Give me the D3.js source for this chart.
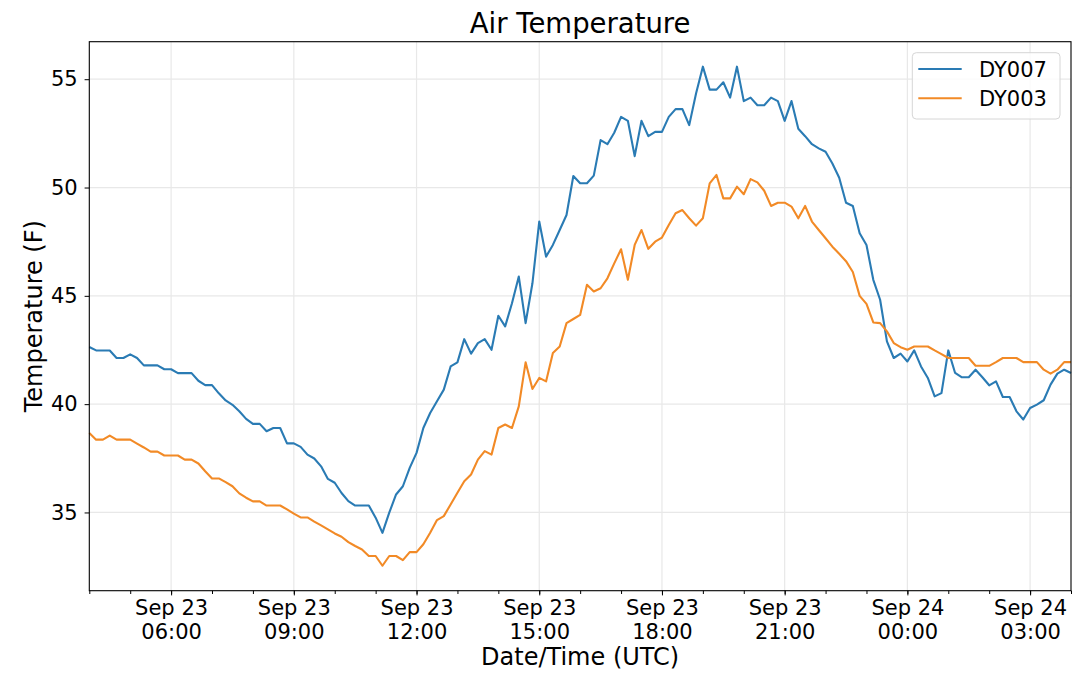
<!DOCTYPE html>
<html>
<head>
<meta charset="utf-8">
<script src="https://cdn.jsdelivr.net/npm/d3@7"></script>
<style>
body{margin:0;background:#fff}
text{font-family:"DejaVu Sans",sans-serif;fill:#000}
</style>
</head>
<body>
<div id="chart"></div>
<script>
// readings every 10 minutes, UTC
var startTime = "2019-09-23T04:00:00Z"
var endTime = "2019-09-24T04:00:00Z"
var stepMinutes = 10
var seriesNames = ["DY007","DY003"]
var seriesColors = ["#2a7bb4","#f28a26"]
var yTicks = [35,40,45,50,55]

var dy007 = [
  42.64,42.48,42.48,42.48,42.13,42.13,42.30,42.13,41.79,41.79,
  41.79,41.61,41.61,41.43,41.43,41.43,41.08,40.88,40.88,40.50,
  40.17,39.97,39.67,39.32,39.09,39.09,38.75,38.90,38.90,38.19,
  38.19,38.03,37.67,37.49,37.13,36.55,36.37,35.90,35.52,35.32,
  35.32,35.32,34.76,34.06,34.99,35.83,36.21,37.06,37.75,38.90,
  39.59,40.13,40.67,41.74,41.93,43.00,42.33,42.82,43.00,42.51,
  44.08,43.59,44.66,45.89,43.74,45.58,48.43,46.81,47.35,48.04,
  48.73,50.53,50.20,50.20,50.55,52.19,52.00,52.53,53.26,53.08,
  51.45,53.08,52.37,52.57,52.57,53.26,53.62,53.62,52.88,54.34,
  55.58,54.52,54.52,54.86,54.15,55.58,53.99,54.15,53.80,53.80,
  54.15,53.99,53.08,53.99,52.71,52.37,52.00,51.81,51.65,51.11,
  50.45,49.30,49.15,47.89,47.35,45.74,44.82,42.90,42.13,42.33,
  41.97,42.48,41.74,41.21,40.36,40.51,42.48,41.44,41.24,41.24,
  41.59,41.24,40.87,41.05,40.33,40.33,39.67,39.29,39.82,39.98,
  40.18,40.90,41.41,41.59,41.44
]
var dy003 = [
  38.67,38.36,38.36,38.55,38.36,38.36,38.36,38.18,38.00,37.81,
  37.81,37.63,37.63,37.63,37.44,37.44,37.26,36.90,36.57,36.57,
  36.40,36.21,35.88,35.68,35.51,35.51,35.32,35.32,35.32,35.14,
  34.95,34.77,34.77,34.58,34.40,34.22,34.03,33.88,33.63,33.45,
  33.29,32.99,32.99,32.54,32.99,32.99,32.80,33.17,33.17,33.53,
  34.06,34.65,34.83,35.37,35.91,36.44,36.75,37.44,37.83,37.67,
  38.90,39.06,38.90,39.90,41.93,40.70,41.21,41.05,42.36,42.66,
  43.74,43.93,44.12,45.51,45.20,45.35,45.81,46.50,47.15,45.74,
  47.35,48.04,47.17,47.50,47.69,48.27,48.81,48.96,48.58,48.24,
  48.58,50.19,50.58,49.50,49.50,50.04,49.69,50.39,50.24,49.85,
  49.15,49.30,49.30,49.12,48.58,49.15,48.43,48.04,47.66,47.27,
  46.94,46.60,46.10,45.00,44.63,43.77,43.74,43.36,42.82,42.63,
  42.51,42.66,42.66,42.66,42.48,42.31,42.13,42.13,42.13,42.13,
  41.77,41.77,41.77,41.94,42.13,42.13,42.13,41.94,41.94,41.94,
  41.59,41.41,41.59,41.94,41.94
]

var W = 1080, H = 677
var plotL = 89.3, plotR = 1071, plotT = 41.7, plotB = 590.7

var t0 = new Date(startTime), t1 = new Date(endTime)
var times = d3.utcMinute.every(stepMinutes).range(t0, d3.utcMinute.offset(t1, 1))

var series = [dy007, dy003].map((vals,k)=>({
    name: seriesNames[k],
    color: seriesColors[k],
    values: vals.map((v,i)=>({t: times[i], v: v}))
}))

var x = d3.scaleUtc().domain(d3.extent(times)).range([plotL, plotR])
var ext = d3.extent(dy007.concat(dy003))
var pad = (ext[1]-ext[0])*0.05
var y = d3.scaleLinear().domain([ext[0]-pad, ext[1]+pad]).range([plotB, plotT])

var svg = d3.select("#chart").append("svg")
    .attr("width", W)
    .attr("height", H)
    .style("background", "#fff")

var majorTimes = d3.utcHour.every(3).range(t0, t1)
var minorTimes = d3.utcHour.every(1).range(t0, d3.utcMinute.offset(t1, 1))

// grid
svg.append("g").selectAll("line")
    .data(majorTimes)
    .enter()
    .append("line")
    .attr("x1", d=>x(d)).attr("x2", d=>x(d))
    .attr("y1", plotT).attr("y2", plotB)
    .attr("stroke", "#e8e8e8")
    .attr("stroke-width", 1.2)

svg.append("g").selectAll("line")
    .data(yTicks)
    .enter()
    .append("line")
    .attr("x1", plotL).attr("x2", plotR)
    .attr("y1", d=>y(d)).attr("y2", d=>y(d))
    .attr("stroke", "#e8e8e8")
    .attr("stroke-width", 1.2)

// lines
var line = d3.line().x(d=>x(d.t)).y(d=>y(d.v))
svg.append("g").selectAll("path")
    .data(series)
    .enter()
    .append("path")
    .attr("d", d=>line(d.values))
    .attr("fill", "none")
    .attr("stroke", d=>d.color)
    .attr("stroke-width", 2.1)
    .attr("stroke-linejoin", "round")

// axes
var fmtDay = d3.utcFormat("%b %d"), fmtHour = d3.utcFormat("%H:%M")

var xMinor = svg.append("g")
    .attr("transform", "translate(0," + plotB + ")")
    .call(d3.axisBottom(x).tickValues(minorTimes).tickSize(3.3).tickSizeOuter(0).tickFormat(""))
xMinor.select(".domain").remove()
xMinor.selectAll("line").attr("stroke", "#000")

var xAxis = svg.append("g")
    .attr("transform", "translate(0," + plotB + ")")
    .call(d3.axisBottom(x).tickValues(majorTimes).tickSize(4.7).tickSizeOuter(0))
xAxis.select(".domain").remove()
xAxis.selectAll("line").attr("stroke", "#000")
xAxis.selectAll(".tick text").each(function(d){
    var t = d3.select(this).text(null).attr("y", 0).attr("dy", null)
        .attr("font-size", 21).attr("fill", "#000")
        .style("font-family", "DejaVu Sans")
    t.append("tspan").attr("x", 0).attr("y", 24.8).text(fmtDay(d))
    t.append("tspan").attr("x", 0).attr("y", 48.3).text(fmtHour(d))
})

var yAxis = svg.append("g")
    .attr("transform", "translate(" + plotL + ",0)")
    .call(d3.axisLeft(y).tickValues(yTicks).tickSize(4.7).tickPadding(7).tickSizeOuter(0))
yAxis.select(".domain").remove()
yAxis.selectAll("line").attr("stroke", "#000")
yAxis.selectAll("text").attr("font-size", 21).attr("fill", "#000")
    .style("font-family", "DejaVu Sans")

// frame
svg.append("rect")
    .attr("x", plotL).attr("y", plotT)
    .attr("width", plotR-plotL).attr("height", plotB-plotT)
    .attr("fill", "none")
    .attr("stroke", "#000")
    .attr("stroke-width", 1.1)

// titles
svg.append("text")
    .text("Air Temperature")
    .attr("x", (plotL+plotR)/2)
    .attr("y", 33)
    .attr("text-anchor", "middle")
    .attr("font-size", 27.5)

svg.append("text")
    .text("Date/Time (UTC)")
    .attr("x", (plotL+plotR)/2)
    .attr("y", 665)
    .attr("text-anchor", "middle")
    .attr("font-size", 24)

svg.append("text")
    .text("Temperature (F)")
    .attr("transform", "translate(42," + (plotT+plotB)/2 + ") rotate(-90)")
    .attr("text-anchor", "middle")
    .attr("font-size", 24)

// legend
var leg = svg.append("g")
leg.append("rect")
    .attr("x", 912.3).attr("y", 52.7)
    .attr("width", 147.7).attr("height", 66.3)
    .attr("rx", 4)
    .attr("fill", "#fff").attr("fill-opacity", 0.8)
    .attr("stroke", "#d6d6d6")

var items = leg.selectAll("g.item")
    .data(series)
    .enter()
    .append("g")
    .attr("transform", (d,i)=>"translate(0," + (69 + i*29.3) + ")")

items.append("line")
    .attr("x1", 918.3).attr("x2", 961.7)
    .attr("stroke", d=>d.color)
    .attr("stroke-width", 2.1)

items.append("text")
    .text(d=>d.name)
    .attr("x", 979)
    .attr("y", 7.7)
    .attr("font-size", 21)
</script>
</body>
</html>
